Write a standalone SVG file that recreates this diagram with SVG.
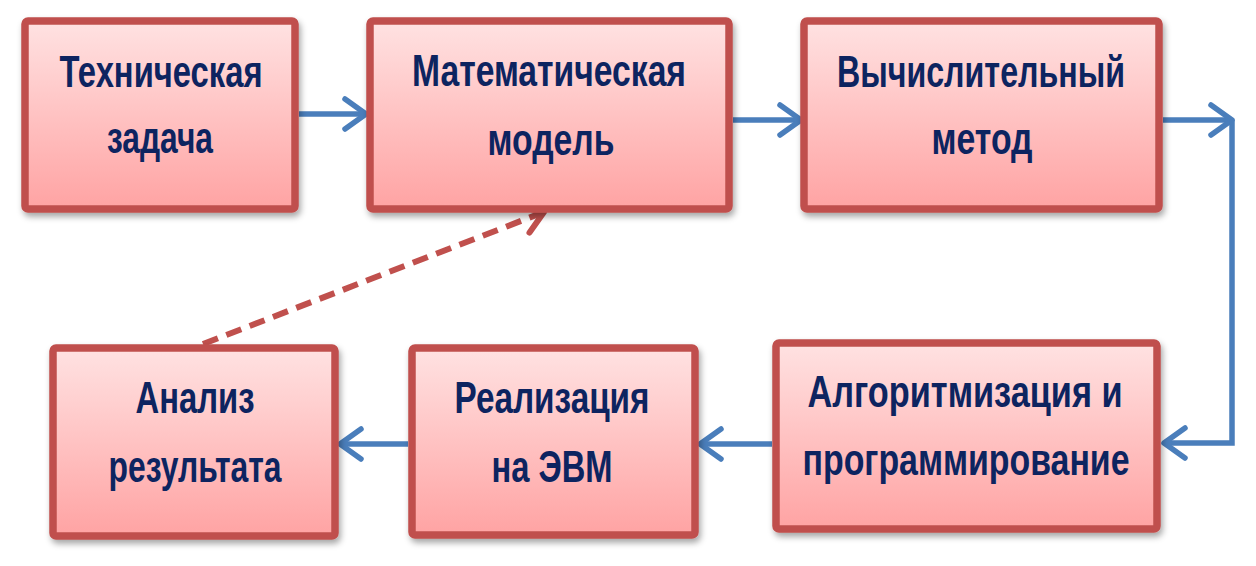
<svg xmlns="http://www.w3.org/2000/svg" width="1256" height="566" viewBox="0 0 1256 566">
<defs>
<linearGradient id="fillG" x1="0" y1="0" x2="0" y2="1">
<stop offset="0" stop-color="#FFE2E2"/>
<stop offset="1" stop-color="#FFA3A3"/>
</linearGradient>
<filter id="sh" x="-10%" y="-10%" width="125%" height="130%">
<feDropShadow dx="2" dy="4" stdDeviation="3" flood-color="#000" flood-opacity="0.35"/>
</filter>
<marker id="ab" markerUnits="userSpaceOnUse" markerWidth="40" markerHeight="40" viewBox="-30 -20 40 40" refX="0" refY="0" orient="auto">
<path d="M-21,-15 L0,0 L-21,15" fill="none" stroke="#4A7EBB" stroke-width="5.5" stroke-linecap="round" stroke-linejoin="round"/>
</marker>
<marker id="ar" markerUnits="userSpaceOnUse" markerWidth="40" markerHeight="40" viewBox="-30 -20 40 40" refX="0" refY="0" orient="auto">
<path d="M-21,-14 L0,0 L-21,14" fill="none" stroke="#C0504D" stroke-width="6" stroke-linecap="round" stroke-linejoin="round"/>
</marker>
</defs>
<style>
.box{fill:url(#fillG);stroke:#C0504D;stroke-width:7.5;filter:url(#sh)}
.t{font-family:"Liberation Sans",Arial,sans-serif;font-weight:bold;font-size:44px;fill:#0D2460;text-anchor:middle}
.c{fill:none;stroke:#4A7EBB;stroke-width:5.5;stroke-linejoin:miter}
.d{fill:none;stroke:#C0504D;stroke-width:6;stroke-dasharray:16 9}
</style>
<rect width="1256" height="566" fill="#FFFFFF"/>
<g id="connectors">
<path class="c" d="M299,114 H366" marker-end="url(#ab)"/>
<path class="c" d="M733,120 H801" marker-end="url(#ab)"/>
<path class="c" d="M1163,120 H1232" marker-end="url(#ab)"/>
<path class="c" d="M1232,120 V443 H1164" marker-end="url(#ab)"/>
<path class="c" d="M772,444 H700" marker-end="url(#ab)"/>
<path class="c" d="M408,444 H340" marker-end="url(#ab)"/>
<path class="d" d="M203,344 L544,212" marker-end="url(#ar)"/>
</g>
<g id="node1">
<rect class="box" x="25" y="21" width="270" height="188" rx="3"/>
<text class="t" x="161" y="87" textLength="203" lengthAdjust="spacingAndGlyphs">Техническая</text>
<text class="t" x="160" y="153" textLength="106" lengthAdjust="spacingAndGlyphs">задача</text>
</g>
<g id="node2">
<rect class="box" x="370" y="21" width="359" height="188" rx="3"/>
<text class="t" x="549" y="86" textLength="274" lengthAdjust="spacingAndGlyphs">Математическая</text>
<text class="t" x="551" y="155" textLength="127" lengthAdjust="spacingAndGlyphs">модель</text>
</g>
<g id="node3">
<rect class="box" x="804" y="21" width="355" height="188" rx="3"/>
<text class="t" x="981" y="87" textLength="288" lengthAdjust="spacingAndGlyphs">Вычислительный</text>
<text class="t" x="982" y="154" textLength="101" lengthAdjust="spacingAndGlyphs">метод</text>
</g>
<g id="node4">
<rect class="box" x="53" y="348" width="282" height="188" rx="3"/>
<text class="t" x="195" y="413" textLength="119" lengthAdjust="spacingAndGlyphs">Анализ</text>
<text class="t" x="195" y="482" textLength="173" lengthAdjust="spacingAndGlyphs">результата</text>
</g>
<g id="node5">
<rect class="box" x="412" y="348" width="283" height="187" rx="3"/>
<text class="t" x="552" y="413" textLength="195" lengthAdjust="spacingAndGlyphs">Реализация</text>
<text class="t" x="552" y="482" textLength="121" lengthAdjust="spacingAndGlyphs">на ЭВМ</text>
</g>
<g id="node6">
<rect class="box" x="776" y="343" width="381" height="186" rx="3"/>
<text class="t" x="965" y="407" textLength="315" lengthAdjust="spacingAndGlyphs">Алгоритмизация и</text>
<text class="t" x="966" y="475" textLength="327" lengthAdjust="spacingAndGlyphs">программирование</text>
</g>
</svg>
